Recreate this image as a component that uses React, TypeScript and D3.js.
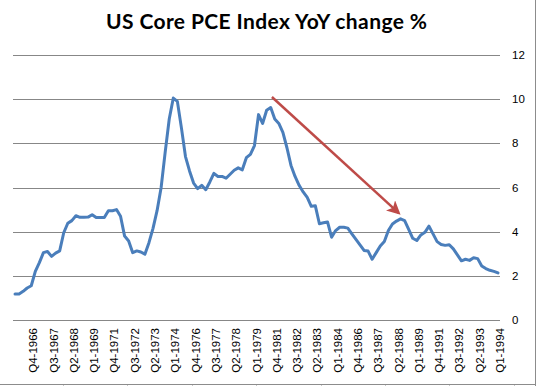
import { useEffect, useRef } from "react";
import * as d3 from "d3";

// quarterly YoY change % (120 points)
const pceValues = [
  1.18, 1.18, 1.3, 1.45, 1.55, 2.2, 2.6, 3.05, 3.1, 2.88,
  3.03, 3.13, 3.95, 4.38, 4.5, 4.72, 4.65, 4.65, 4.66, 4.77,
  4.64, 4.64, 4.64, 4.95, 4.95, 5.0, 4.7, 3.8, 3.58, 3.05,
  3.13, 3.08, 2.98, 3.5, 4.15, 4.95, 6.0, 7.6, 9.1, 10.05,
  9.9, 8.7, 7.4, 6.75, 6.2, 5.95, 6.1, 5.9, 6.25, 6.64,
  6.5, 6.5, 6.42, 6.6, 6.78, 6.89, 6.8, 7.35, 7.5, 7.9,
  9.3, 8.9, 9.5, 9.62, 9.1, 8.9, 8.5, 7.8, 7.0, 6.5,
  6.1, 5.8, 5.55, 5.15, 5.17, 4.36, 4.4, 4.44, 3.75, 4.05,
  4.2, 4.2, 4.16, 3.9, 3.65, 3.4, 3.15, 3.12, 2.75, 3.05,
  3.35, 3.55, 4.05, 4.35, 4.48, 4.58, 4.5, 4.1, 3.7, 3.6,
  3.85, 3.97, 4.25, 3.9, 3.55, 3.42, 3.38, 3.41, 3.22, 2.95,
  2.68, 2.75, 2.7, 2.82, 2.78, 2.45, 2.33, 2.25, 2.2, 2.13,
];

// every 5th category carries a label
const xTickLabels = [
  "Q4-1966", "Q3-1967", "Q2-1968", "Q1-1969", "Q4-1971", "Q3-1972",
  "Q2-1973", "Q1-1974", "Q4-1976", "Q3-1977", "Q2-1978", "Q1-1979",
  "Q4-1981", "Q3-1982", "Q2-1983", "Q1-1984", "Q4-1986", "Q3-1987",
  "Q2-1988", "Q1-1989", "Q4-1991", "Q3-1992", "Q2-1993", "Q1-1994",
];
const firstLabelIndex = 4;
const labelStep = 5;

const yTicks = [0, 2, 4, 6, 8, 10, 12];

// trend arrow: [category index, value]
const arrowFrom: [number, number] = [63.3, 10.1];
const arrowTo: [number, number] = [94.5, 4.85];

const title = "US Core PCE Index YoY change %";

export default function App() {
  const ref = useRef<SVGSVGElement | null>(null);
  const width = 536;
  const height = 386;

  useEffect(() => {
    document.body.style.margin = "0";
    if (!ref.current) return;
    const svg = d3.select(ref.current);
    svg.selectAll("*").remove();

    const margin = { top: 55, right: 36, bottom: 66, left: 13 };

    const x = d3.scaleBand<number>()
      .domain(d3.range(pceValues.length))
      .range([margin.left, width - margin.right]);

    const y = d3.scaleLinear()
      .domain([0, 12])
      .range([height - margin.bottom, margin.top]);

    const cx = (i: number) => (x(Math.floor(i)) ?? 0) + x.bandwidth() / 2 + (i % 1) * x.bandwidth();

    svg.append("rect")
      .attr("width", width)
      .attr("height", height)
      .attr("fill", "white");

    // outer chart border (right / bottom) and sheet cells below
    svg.append("line")
      .attr("x1", width - 0.5).attr("x2", width - 0.5)
      .attr("y1", 0).attr("y2", height)
      .attr("stroke", "#8c8c8c");
    svg.append("line")
      .attr("x1", 0).attr("x2", width)
      .attr("y1", height - 1.5).attr("y2", height - 1.5)
      .attr("stroke", "#8c8c8c");
    d3.range(8).forEach(k => {
      const xx = Math.round(63 + k * 64.4) + 0.5;
      svg.append("line")
        .attr("x1", xx).attr("x2", xx)
        .attr("y1", height - 1).attr("y2", height)
        .attr("stroke", "#c8c8c8");
    });

    // gridlines
    svg.append("g")
      .selectAll("line")
      .data(yTicks)
      .enter()
      .append("line")
      .attr("x1", margin.left)
      .attr("x2", width - margin.right)
      .attr("y1", d => Math.round(y(d)) + 0.5)
      .attr("y2", d => Math.round(y(d)) + 0.5)
      .attr("stroke", "#878787")
      .attr("stroke-width", 1);

    // right-hand value labels
    svg.append("g")
      .selectAll("text")
      .data(yTicks)
      .enter()
      .append("text")
      .attr("x", width - margin.right + 12)
      .attr("y", d => y(d))
      .attr("dy", "0.35em")
      .attr("font-family", "Liberation Sans, Arial, sans-serif")
      .attr("font-size", "11.5px")
      .attr("fill", "#000")
      .text(d => d);

    // category labels, rotated
    svg.append("g")
      .selectAll("text")
      .data(xTickLabels)
      .enter()
      .append("text")
      .attr("transform", (d, k) =>
        `translate(${cx(firstLabelIndex + k * labelStep) + 2},${height - margin.bottom + 8}) rotate(-90)`)
      .attr("dy", "0.35em")
      .attr("text-anchor", "end")
      .attr("font-family", "Liberation Sans, Arial, sans-serif")
      .attr("font-size", "11.5px")
      .attr("fill", "#000")
      .text(d => d);

    // the series line
    const line = d3.line<number>()
      .x((d, i) => cx(i))
      .y(d => y(d));

    svg.append("path")
      .datum(pceValues)
      .attr("d", line)
      .attr("fill", "none")
      .attr("stroke", "#4a7ebb")
      .attr("stroke-width", 3)
      .attr("stroke-linejoin", "round")
      .attr("stroke-linecap", "round");

    // red trend arrow
    svg.append("defs")
      .append("marker")
      .attr("id", "arrowHead")
      .attr("viewBox", "0 0 10 10")
      .attr("refX", 8)
      .attr("refY", 5)
      .attr("markerWidth", 5.5)
      .attr("markerHeight", 5.5)
      .attr("orient", "auto")
      .append("path")
      .attr("d", "M0,0 L10,5 L0,10 L2.5,5 Z")
      .attr("fill", "#be4b48");

    svg.append("line")
      .attr("x1", cx(arrowFrom[0]))
      .attr("y1", y(arrowFrom[1]))
      .attr("x2", cx(arrowTo[0]))
      .attr("y2", y(arrowTo[1]))
      .attr("stroke", "#be4b48")
      .attr("stroke-width", 2.5)
      .attr("marker-end", "url(#arrowHead)");

    // title
    svg.append("text")
      .attr("x", 266.5)
      .attr("y", 29)
      .attr("text-anchor", "middle")
      .attr("font-family", "Lato, Carlito, sans-serif")
      .attr("font-weight", "bold")
      .attr("font-size", "21px")
      .attr("textLength", 321)
      .attr("lengthAdjust", "spacing")
      .attr("fill", "#000")
      .text(title);
  }, []);

  return (
    <div style={{ width, height }}>
      <svg ref={ref} width={width} height={height} style={{ display: "block" }} />
    </div>
  );
}
